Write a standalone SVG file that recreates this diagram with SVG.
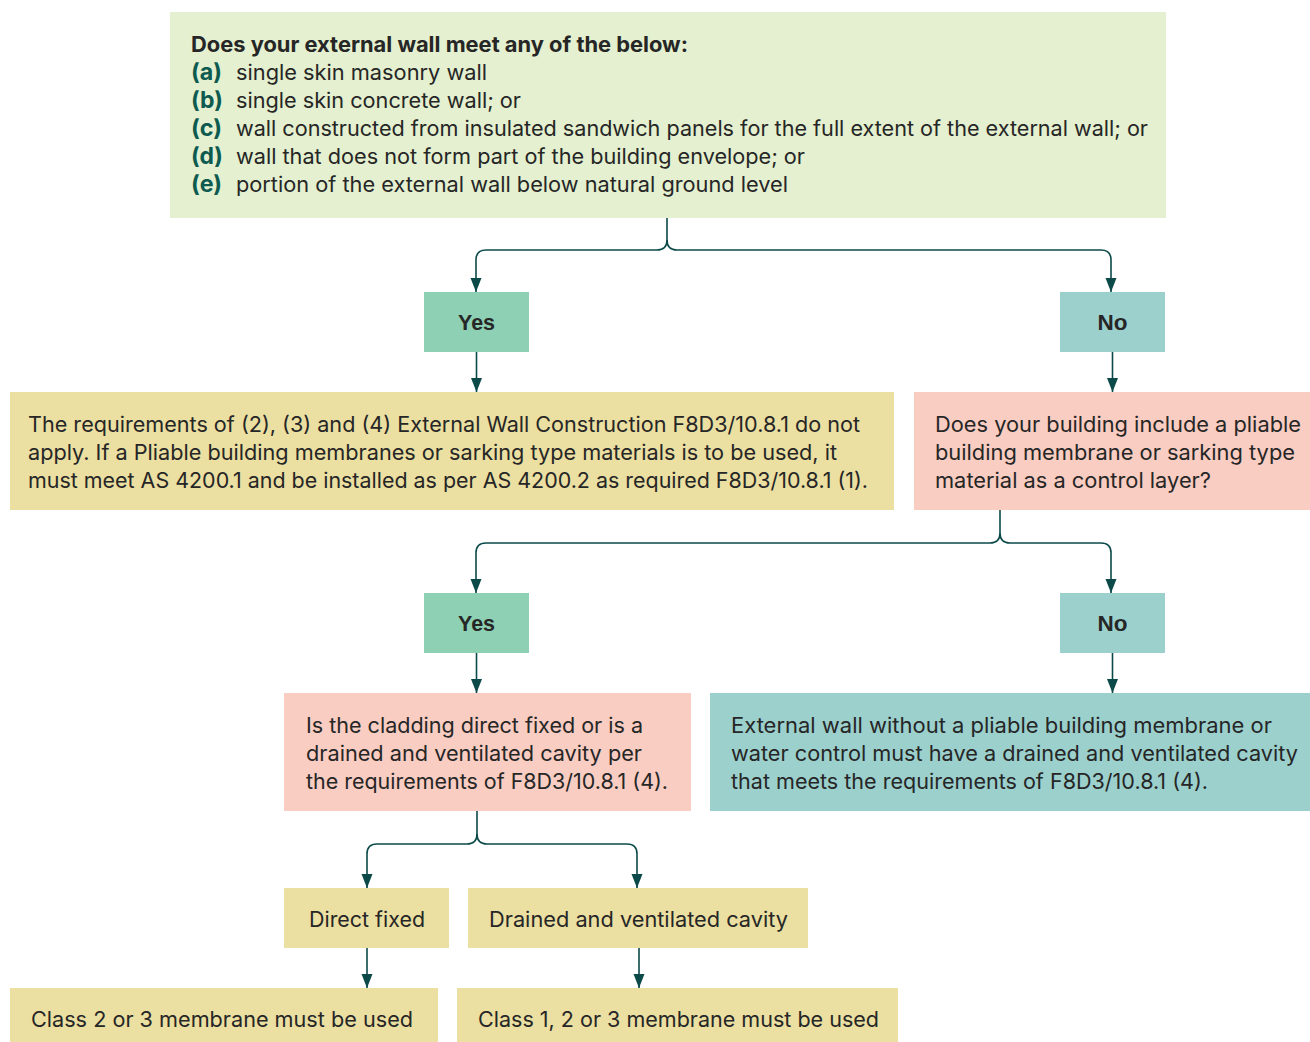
<svg xmlns="http://www.w3.org/2000/svg" width="1310" height="1042" viewBox="0 0 1310 1042">
<defs>
<style>
text{font-family:Inter,"Liberation Sans",Arial,sans-serif;font-size:21.3px;fill:#262626}
.b{font-weight:bold}
.yn{font-family:"Liberation Sans",Arial,sans-serif;font-weight:bold;font-size:22px}
.lab{font-weight:bold;fill:#0d5a50;font-size:23px}
.c{text-anchor:middle}
.conn path{fill:none;stroke:#0c4a4a;stroke-width:1.6}
</style>
<marker id="ah" markerUnits="userSpaceOnUse" markerWidth="14" markerHeight="12" refX="14" refY="6" orient="auto">
<path d="M0,0.5 L14,6 L0,11.5 z" fill="#0c4a4a"/>
</marker>
</defs>
<rect width="1310" height="1042" fill="#ffffff"/>

<g id="q1">
<rect x="170" y="12" width="996" height="206" fill="#e4f0cf"/>
<text x="191" y="52" class="b" textLength="497" lengthAdjust="spacingAndGlyphs">Does your external wall meet any of the below:</text>
<text x="191" y="80" class="lab" textLength="31" lengthAdjust="spacingAndGlyphs">(a)</text>
<text x="236" y="80" textLength="251" lengthAdjust="spacingAndGlyphs">single skin masonry wall</text>
<text x="191" y="108" class="lab" textLength="32" lengthAdjust="spacingAndGlyphs">(b)</text>
<text x="236" y="108" textLength="285" lengthAdjust="spacingAndGlyphs">single skin concrete wall; or</text>
<text x="191" y="136" class="lab" textLength="31" lengthAdjust="spacingAndGlyphs">(c)</text>
<text x="236" y="136" textLength="912" lengthAdjust="spacingAndGlyphs">wall constructed from insulated sandwich panels for the full extent of the external wall; or</text>
<text x="191" y="164" class="lab" textLength="32" lengthAdjust="spacingAndGlyphs">(d)</text>
<text x="236" y="164" textLength="569" lengthAdjust="spacingAndGlyphs">wall that does not form part of the building envelope; or</text>
<text x="191" y="192" class="lab" textLength="31" lengthAdjust="spacingAndGlyphs">(e)</text>
<text x="236" y="192" textLength="552" lengthAdjust="spacingAndGlyphs">portion of the external wall below natural ground level</text>
</g>

<g id="yes1">
<rect x="424" y="292" width="105" height="60" fill="#8dd0b3"/>
<text x="476.5" y="330" class="yn c" textLength="37" lengthAdjust="spacingAndGlyphs">Yes</text>
</g>
<g id="no1">
<rect x="1060" y="292" width="105" height="60" fill="#9bd0cd"/>
<text x="1112.5" y="330" class="yn c" textLength="30" lengthAdjust="spacingAndGlyphs">No</text>
</g>

<g id="notapply">
<rect x="10" y="392" width="884" height="118" fill="#ebdfa2"/>
<text x="28" y="432" textLength="832" lengthAdjust="spacingAndGlyphs">The requirements of (2), (3) and (4) External Wall Construction F8D3/10.8.1 do not</text>
<text x="28" y="460" textLength="809" lengthAdjust="spacingAndGlyphs">apply. If a Pliable building membranes or sarking type materials is to be used, it</text>
<text x="28" y="488" textLength="840" lengthAdjust="spacingAndGlyphs">must meet AS 4200.1 and be installed as per AS 4200.2 as required F8D3/10.8.1 (1).</text>
</g>

<g id="q2">
<rect x="914" y="392" width="396" height="118" fill="#f9cdc1"/>
<text x="935" y="432" textLength="366" lengthAdjust="spacingAndGlyphs">Does your building include a pliable</text>
<text x="935" y="460" textLength="360" lengthAdjust="spacingAndGlyphs">building membrane or sarking type</text>
<text x="935" y="488" textLength="276" lengthAdjust="spacingAndGlyphs">material as a control layer?</text>
</g>

<g id="yes2">
<rect x="424" y="593" width="105" height="60" fill="#8dd0b3"/>
<text x="476.5" y="631" class="yn c" textLength="37" lengthAdjust="spacingAndGlyphs">Yes</text>
</g>
<g id="no2">
<rect x="1060" y="593" width="105" height="60" fill="#9bd0cd"/>
<text x="1112.5" y="631" class="yn c" textLength="30" lengthAdjust="spacingAndGlyphs">No</text>
</g>

<g id="q3">
<rect x="284" y="693" width="407" height="118" fill="#f9cdc1"/>
<text x="306" y="733" textLength="337" lengthAdjust="spacingAndGlyphs">Is the cladding direct fixed or is a</text>
<text x="306" y="761" textLength="336" lengthAdjust="spacingAndGlyphs">drained and ventilated cavity per</text>
<text x="306" y="789" textLength="362" lengthAdjust="spacingAndGlyphs">the requirements of F8D3/10.8.1 (4).</text>
</g>

<g id="nocavity">
<rect x="710" y="693" width="600" height="118" fill="#9bd0cd"/>
<text x="731" y="733" textLength="541" lengthAdjust="spacingAndGlyphs">External wall without a pliable building membrane or</text>
<text x="731" y="761" textLength="567" lengthAdjust="spacingAndGlyphs">water control must have a drained and ventilated cavity</text>
<text x="731" y="789" textLength="477" lengthAdjust="spacingAndGlyphs">that meets the requirements of F8D3/10.8.1 (4).</text>
</g>

<g id="direct">
<rect x="284" y="888" width="165" height="60" fill="#ebdfa2"/>
<text x="367" y="927" class="c" textLength="116" lengthAdjust="spacingAndGlyphs">Direct fixed</text>
</g>
<g id="drained">
<rect x="468" y="888" width="340" height="60" fill="#ebdfa2"/>
<text x="638.5" y="927" class="c" textLength="299" lengthAdjust="spacingAndGlyphs">Drained and ventilated cavity</text>
</g>

<g id="class23">
<rect x="10" y="988" width="428" height="54" fill="#ebdfa2"/>
<text x="222" y="1027" class="c" textLength="382" lengthAdjust="spacingAndGlyphs">Class 2 or 3 membrane must be used</text>
</g>
<g id="class123">
<rect x="457" y="988" width="441" height="54" fill="#ebdfa2"/>
<text x="678.5" y="1027" class="c" textLength="401" lengthAdjust="spacingAndGlyphs">Class 1, 2 or 3 membrane must be used</text>
</g>

<g id="connectors" class="conn">
<path d="M667,218 V240 Q667,250 657,250 H486 Q476,250 476,260 V292" marker-end="url(#ah)"/>
<path d="M667,240 Q667,250 677,250 H1101 Q1111,250 1111,260 V292" marker-end="url(#ah)"/>
<path d="M476.5,352 V392" marker-end="url(#ah)"/>
<path d="M1112.5,352 V392" marker-end="url(#ah)"/>
<path d="M1000,510 V533 Q1000,543 990,543 H486 Q476,543 476,553 V593" marker-end="url(#ah)"/>
<path d="M1000,533 Q1000,543 1010,543 H1101 Q1111,543 1111,553 V593" marker-end="url(#ah)"/>
<path d="M476.5,653 V693" marker-end="url(#ah)"/>
<path d="M1112.5,653 V693" marker-end="url(#ah)"/>
<path d="M477,811 V834 Q477,844 467,844 H377 Q367,844 367,854 V888" marker-end="url(#ah)"/>
<path d="M477,834 Q477,844 487,844 H627 Q637,844 637,854 V888" marker-end="url(#ah)"/>
<path d="M367,948 V988" marker-end="url(#ah)"/>
<path d="M639,948 V988" marker-end="url(#ah)"/>
</g>
</svg>
